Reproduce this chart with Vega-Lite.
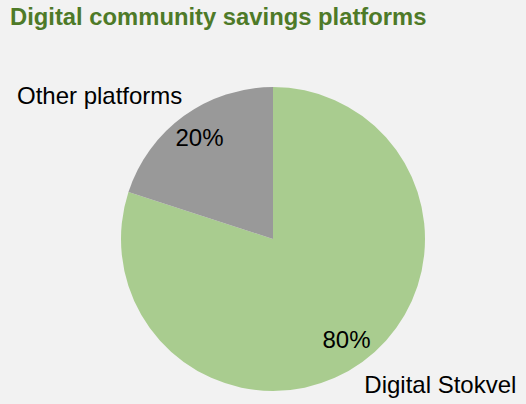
{
  "$schema": "https://vega.github.io/schema/vega-lite/v6.json",
  "width": 526,
  "height": 404,
  "autosize": {"type": "fit", "contains": "padding"},
  "padding": {"left": 13, "top": 6, "right": 0, "bottom": 0},
  "background": "#f2f2f2",
  "title": {
    "text": "Digital community savings platforms",
    "anchor": "start",
    "font": "Liberation Sans",
    "fontSize": 23.8,
    "fontWeight": "bold",
    "color": "#4e7a28",
    "offset": 44,
    "dx": -7
  },
  "data": {
    "values": [
      {"category": "Digital Stokvel", "share": 0.8},
      {"category": "Other platforms", "share": 0.2}
    ]
  },
  "encoding": {
    "theta": {"field": "share", "type": "quantitative", "stack": true},
    "order": {"field": "category", "type": "nominal", "sort": "ascending"}
  },
  "layer": [
    {
      "mark": {"type": "arc", "outerRadius": 152},
      "encoding": {
        "color": {
          "field": "category",
          "type": "nominal",
          "scale": {"domain": ["Digital Stokvel", "Other platforms"], "range": ["#a9cc8f", "#999999"]},
          "legend": null
        }
      }
    },
    {
      "mark": {"type": "text", "radius": 125, "font": "Liberation Sans", "fontSize": 24, "color": "#000000", "baseline": "middle", "dy": 1},
      "encoding": {
        "text": {"field": "share", "type": "quantitative", "format": ".0%"}
      }
    },
    {
      "mark": {"type": "text", "radius": 152, "font": "Liberation Sans", "fontSize": 24, "color": "#000000", "baseline": "middle", "dx": -84, "dy": -19},
      "encoding": {
        "text": {"condition": {"test": "datum.category === 'Other platforms'", "field": "category"}, "value": ""}
      }
    },
    {
      "mark": {"type": "text", "radius": 152, "font": "Liberation Sans", "fontSize": 24, "color": "#000000", "baseline": "middle", "dx": 78, "dy": 24},
      "encoding": {
        "text": {"condition": {"test": "datum.category === 'Digital Stokvel'", "field": "category"}, "value": ""}
      }
    }
  ],
  "config": {"view": {"stroke": null}}
}
